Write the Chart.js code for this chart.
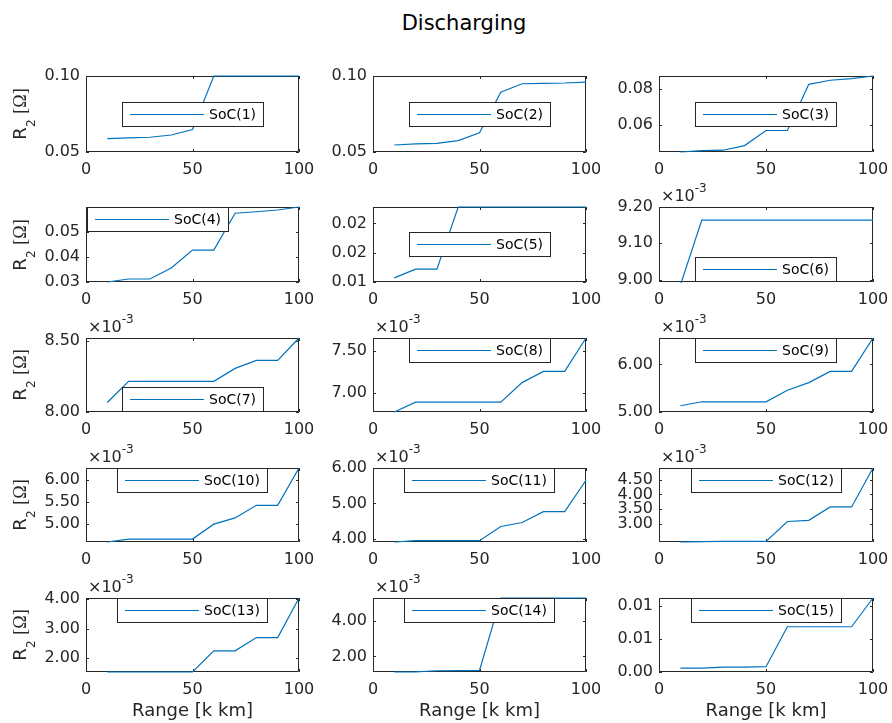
<!DOCTYPE html>
<html>
<head>
<meta charset="utf-8">
<script src="https://cdn.jsdelivr.net/npm/chart.js@4.4.1/dist/chart.umd.min.js"></script>
<style>
  html, body { margin: 0; padding: 0; background: #fff; }
  #fig { position: relative; width: 892px; height: 723px; overflow: hidden; font-family: "DejaVu Sans", sans-serif; color: #262626; }
  #fig canvas { position: absolute; }
  .title { position: absolute; left: 364px; width: 200px; top: 13px; text-align: center; font-size: 21px; line-height: 21px; color: #000; }
  .ylab { position: absolute; font-size: 18px; line-height: 18px; white-space: nowrap; transform: translate(-50%, -50%) rotate(-90deg); }
  .ylab .sub { font-size: 12px; position: relative; top: 9px; }
  .ylab .om { font-family: "Liberation Serif", serif; }
  .xlab { position: absolute; width: 200px; text-align: center; font-size: 18px; line-height: 18px; top: 701px; white-space: nowrap; }
</style>
</head>
<body>
<div id="fig">
  <div class="title">Discharging</div>
</div>
<script>
// range [k km]
const xKm = [10, 20, 30, 40, 50, 60, 70, 80, 90, 100];
const xTicks = [0, 50, 100];

// R2 [Ohm] per SoC level
const soc1  = [0.0588, 0.0593, 0.0597, 0.0612, 0.0648, 0.1000, 0.1000, 0.1000, 0.1000, 0.1000];
const soc2  = [0.0546, 0.0553, 0.0557, 0.0575, 0.0626, 0.0894, 0.0949, 0.0952, 0.0954, 0.0960];
const soc3  = [0.0447, 0.0455, 0.0457, 0.0483, 0.0568, 0.0568, 0.0828, 0.0851, 0.0860, 0.0875];
const soc4  = [0.0300, 0.0312, 0.0312, 0.0356, 0.0427, 0.0427, 0.0574, 0.0580, 0.0587, 0.0599];
const soc5  = [0.0107, 0.0122, 0.0122, 0.0228, 0.0228, 0.0228, 0.0228, 0.0228, 0.0228, 0.0228];
const soc6  = [8.985e-3, 9.164e-3, 9.164e-3, 9.164e-3, 9.164e-3, 9.164e-3, 9.164e-3, 9.164e-3, 9.164e-3, 9.164e-3];
const soc7  = [8.067e-3, 8.216e-3, 8.216e-3, 8.216e-3, 8.216e-3, 8.216e-3, 8.307e-3, 8.363e-3, 8.363e-3, 8.521e-3];
const soc8  = [6.776e-3, 6.894e-3, 6.894e-3, 6.894e-3, 6.894e-3, 6.894e-3, 7.126e-3, 7.260e-3, 7.260e-3, 7.657e-3];
const soc9  = [5.132e-3, 5.215e-3, 5.215e-3, 5.215e-3, 5.215e-3, 5.458e-3, 5.618e-3, 5.854e-3, 5.854e-3, 6.556e-3];
const soc10 = [4.590e-3, 4.657e-3, 4.657e-3, 4.657e-3, 4.657e-3, 4.993e-3, 5.134e-3, 5.418e-3, 5.418e-3, 6.260e-3];
const soc11 = [3.907e-3, 3.944e-3, 3.944e-3, 3.944e-3, 3.944e-3, 4.346e-3, 4.458e-3, 4.766e-3, 4.766e-3, 5.654e-3];
const soc12 = [2.400e-3, 2.410e-3, 2.420e-3, 2.420e-3, 2.420e-3, 3.090e-3, 3.130e-3, 3.580e-3, 3.580e-3, 4.889e-3];
const soc13 = [1.530e-3, 1.530e-3, 1.530e-3, 1.530e-3, 1.535e-3, 2.250e-3, 2.250e-3, 2.700e-3, 2.700e-3, 4.045e-3];
const soc14 = [1.130e-3, 1.140e-3, 1.200e-3, 1.210e-3, 1.220e-3, 5.280e-3, 5.280e-3, 5.280e-3, 5.280e-3, 5.280e-3];
const soc15 = [0.0006, 0.0006, 0.00075, 0.00075, 0.0008, 0.00685, 0.00685, 0.00685, 0.00685, 0.0112];

const socLabels = ['SoC(1)', 'SoC(2)', 'SoC(3)', 'SoC(4)', 'SoC(5)', 'SoC(6)', 'SoC(7)', 'SoC(8)',
                   'SoC(9)', 'SoC(10)', 'SoC(11)', 'SoC(12)', 'SoC(13)', 'SoC(14)', 'SoC(15)'];

// y limits and ticks for each subplot
const yMin = [0.05, 0.05, 0.0447, 0.03, 0.01, 8.9936e-3, 8.0e-3, 6.776e-3, 5.0e-3, 4.59e-3, 3.907e-3, 2.4e-3, 1.53e-3, 1.13e-3, 0];
const yMax = [0.10, 0.10, 0.0875, 0.0599, 0.0228, 9.2e-3, 8.521e-3, 7.657e-3, 6.556e-3, 6.26e-3, 6.0e-3, 4.889e-3, 4.045e-3, 5.28e-3, 0.0112];
const yTicks = [
  [0.05, 0.10], [0.05, 0.10], [0.06, 0.08], [0.03, 0.04, 0.05], [0.01, 0.015, 0.02],
  [9.0e-3, 9.1e-3, 9.2e-3], [8.0e-3, 8.5e-3], [7.0e-3, 7.5e-3], [5.0e-3, 6.0e-3], [5.0e-3, 5.5e-3, 6.0e-3],
  [4e-3, 5e-3, 6e-3], [3.0e-3, 3.5e-3, 4.0e-3, 4.5e-3], [2e-3, 3e-3, 4e-3], [2e-3, 4e-3], [0, 0.005, 0.01]
];
const yTickLabels = [
  ['0.05', '0.10'], ['0.05', '0.10'], ['0.06', '0.08'], ['0.03', '0.04', '0.05'], ['0.01', '0.02', '0.02'],
  ['9.00', '9.10', '9.20'], ['8.00', '8.50'], ['7.00', '7.50'], ['5.00', '6.00'], ['5.00', '5.50', '6.00'],
  ['4.00', '5.00', '6.00'], ['3.00', '3.50', '4.00', '4.50'], ['2.00', '3.00', '4.00'], ['2.00', '4.00'], ['0.00', '0.01', '0.01']
];
const sciExp = [false, false, false, false, false, true, true, true, true, true, true, true, true, true, false];
const legendLoc = ['center', 'center', 'center', 'northwest', 'center', 'south', 'south', 'north',
                   'north', 'north', 'north', 'north', 'north', 'north', 'north'];

const socSeries = [soc1, soc2, soc3, soc4, soc5, soc6, soc7, soc8, soc9, soc10, soc11, soc12, soc13, soc14, soc15];

// subplot geometry
const colLeft = [86, 373, 659];
const colWidth = [213, 213, 214];
const rowTop = [76, 207, 338, 468, 598];
const rowHeight = [76, 75, 74, 74, 74];
const YW = 80, XH = 30, PT = 30, PR = 20;

const FONT = '"DejaVu Sans", sans-serif';
const BLUE = '#0072BD';
const AXC = '#262626';

const framePlugin = {
  id: 'frame',
  beforeDatasetsDraw(chart, args, opts) {
    const { ctx, chartArea: a, scales } = chart;
    ctx.save();
    ctx.strokeStyle = AXC;
    ctx.lineWidth = 1;
    ctx.beginPath();
    ctx.rect(a.left + 0.5, a.top + 0.5, a.right - a.left - 1, a.bottom - a.top - 1);
    scales.x.ticks.forEach(t => {
      const px = Math.round(scales.x.getPixelForValue(t.value)) + 0.5;
      ctx.moveTo(px, a.bottom); ctx.lineTo(px, a.bottom - 3);
      ctx.moveTo(px, a.top); ctx.lineTo(px, a.top + 3);
    });
    scales.y.ticks.forEach(t => {
      const py = Math.round(scales.y.getPixelForValue(t.value)) + 0.5;
      ctx.moveTo(a.left, py); ctx.lineTo(a.left + 3, py);
      ctx.moveTo(a.right, py); ctx.lineTo(a.right - 3, py);
    });
    ctx.stroke();
    ctx.restore();
  },
  afterDraw(chart, args, opts) {
    const { ctx, chartArea: a } = chart;
    ctx.save();
    // legend box
    ctx.font = '14px ' + FONT;
    const tw = ctx.measureText(opts.label).width;
    const w = Math.round(8 + 74 + 5 + tw + 8), h = 25;
    let bx = Math.round((a.left + a.right - w) / 2);
    let by = Math.round((a.top + a.bottom - h) / 2);
    if (opts.loc === 'northwest') bx = a.left + 1;
    if (opts.loc === 'north' || opts.loc === 'northwest') by = a.top;
    if (opts.loc === 'south') by = a.bottom - h;
    ctx.fillStyle = '#fff';
    ctx.fillRect(bx, by, w, h);
    ctx.strokeStyle = AXC;
    ctx.lineWidth = 1;
    ctx.strokeRect(bx + 0.5, by + 0.5, w - 1, h - 1);
    ctx.strokeStyle = BLUE;
    ctx.lineWidth = 1.2;
    ctx.beginPath();
    ctx.moveTo(bx + 8, by + h / 2);
    ctx.lineTo(bx + 82, by + h / 2);
    ctx.stroke();
    ctx.fillStyle = '#000';
    ctx.textBaseline = 'middle';
    ctx.textAlign = 'left';
    ctx.fillText(opts.label, bx + 87, by + h / 2 + 1);
    // x10^-3 multiplier
    if (opts.exp) {
      ctx.fillStyle = AXC;
      ctx.textBaseline = 'alphabetic';
      ctx.font = '16px ' + FONT;
      ctx.fillText('\u00d710', a.left + 2, a.top - 6);
      const ew = ctx.measureText('\u00d710').width;
      ctx.font = '12px ' + FONT;
      ctx.fillText('-3', a.left + 2 + ew, a.top - 15);
    }
    ctx.restore();
  }
};

const fig = document.getElementById('fig');

socSeries.forEach((series, i) => {
  const r = Math.floor(i / 3), c = i % 3;
  const pw = colWidth[c], ph = rowHeight[r];
  const cv = document.createElement('canvas');
  cv.width = YW + pw + PR;
  cv.height = PT + ph + XH;
  cv.style.left = (colLeft[c] - YW) + 'px';
  cv.style.top = (rowTop[r] - PT) + 'px';
  fig.appendChild(cv);

  new Chart(cv, {
    type: 'line',
    data: {
      datasets: [{
        data: xKm.map((x, j) => ({ x: x, y: series[j] })),
        borderColor: BLUE,
        borderWidth: 1.2,
        pointRadius: 0,
        fill: false,
        tension: 0,
        clip: 1
      }]
    },
    options: {
      responsive: false,
      animation: false,
      layout: { padding: { top: PT, right: PR, left: 0, bottom: 0 } },
      plugins: {
        legend: { display: false },
        tooltip: { enabled: false },
        frame: { label: socLabels[i], loc: legendLoc[i], exp: sciExp[i] }
      },
      scales: {
        x: {
          type: 'linear', min: 0, max: 100,
          grid: { display: false, drawTicks: false },
          border: { display: false },
          afterBuildTicks: s => { s.ticks = xTicks.map(v => ({ value: v })); },
          afterFit: s => { s.height = XH; s.paddingLeft = 0; s.paddingRight = 0; },
          ticks: {
            autoSkip: false, maxRotation: 0, padding: 8, color: AXC,
            font: { family: FONT, size: 16 },
            callback: v => String(v)
          }
        },
        y: {
          type: 'linear', min: yMin[i], max: yMax[i],
          grid: { display: false, drawTicks: false },
          border: { display: false },
          afterBuildTicks: s => { s.ticks = yTicks[i].map(v => ({ value: v })); },
          afterFit: s => { s.width = YW; s.paddingTop = 0; s.paddingBottom = 0; },
          ticks: {
            autoSkip: false, padding: 6, color: AXC,
            font: { family: FONT, size: 16 },
            callback: (v, k) => yTickLabels[i][k]
          }
        }
      }
    },
    plugins: [framePlugin]
  });
});

// axis labels
rowTop.forEach((t, r) => {
  const d = document.createElement('div');
  d.className = 'ylab';
  d.style.left = '21px';
  d.style.top = (t + rowHeight[r] / 2) + 'px';
  d.innerHTML = 'R<span class="sub">2</span> <span class="om">[\u03a9]</span>';
  fig.appendChild(d);
});
colLeft.forEach((l, c) => {
  const d = document.createElement('div');
  d.className = 'xlab';
  d.style.left = (l + colWidth[c] / 2 - 100) + 'px';
  d.textContent = 'Range [k km]';
  fig.appendChild(d);
});
</script>
</body>
</html>
